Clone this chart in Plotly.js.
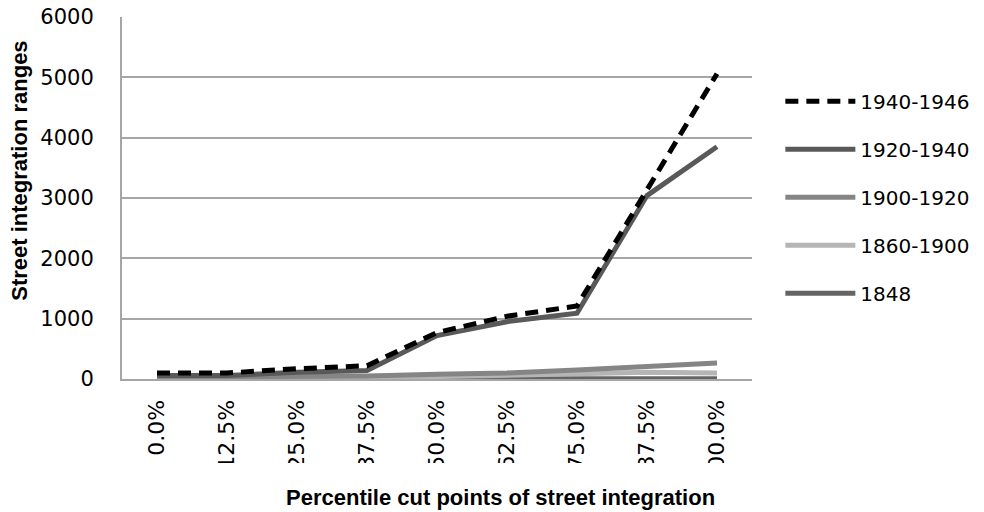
<!DOCTYPE html>
<html>
<head>
<meta charset="utf-8">
<script src="https://cdn.plot.ly/plotly-3.0.1.min.js"></script>
<style>html,body{margin:0;padding:0;background:#fff;}#chart{width:984px;height:512px;}</style>
</head>
<body>
<div id="chart"></div>
<script>
const categories = ["0.0%", "12.5%", "25.0%", "37.5%", "50.0%", "62.5%", "75.0%", "87.5%", "100.0%"];
const s1940_1946 = [100, 100, 170, 220, 770, 1040, 1210, 3150, 5060];
const s1920_1940 = [60, 60, 110, 140, 720, 950, 1090, 3040, 3850];
const s1900_1920 = [30, 30, 40, 50, 80, 100, 150, 200, 265];
const s1860_1900 = [15, 15, 20, 25, 40, 55, 85, 110, 100];
const s1848 = [5, 5, 5, 5, 5, 5, 5, 5, 5];
const yTicks = [0, 1000, 2000, 3000, 4000, 5000, 6000];

const seriesNames = ["1940-1946", "1920-1940", "1900-1920", "1860-1900", "1848"];
const seriesData = [s1940_1946, s1920_1940, s1900_1920, s1860_1900, s1848];
const styles = [
  {color: "#000000", width: 5, dash: "13px,8px"},
  {color: "#595959", width: 5, dash: "solid"},
  {color: "#858585", width: 5, dash: "solid"},
  {color: "#b5b5b5", width: 5, dash: "solid"},
  {color: "#646464", width: 5, dash: "solid"}
];

// draw in reverse order so the dashed series sits on top; legend order kept via legendrank
const traces = [];
for (let i = seriesNames.length - 1; i >= 0; i--) {
  traces.push({
    type: "scatter",
    mode: "lines",
    name: seriesNames[i],
    x: categories,
    y: seriesData[i],
    line: styles[i],
    legendgroup: "g" + i,
    legendrank: i + 1
  });
}

const layout = {
  width: 984,
  height: 512,
  margin: {l: 122, r: 232, t: 17, b: 133, autoexpand: false},
  paper_bgcolor: "#ffffff",
  plot_bgcolor: "#ffffff",
  font: {family: "DejaVu Sans", color: "#000000", size: 20},
  showlegend: true,
  legend: {
    x: 1.045, xanchor: "left",
    y: 0.821, yanchor: "top",
    traceorder: "grouped",
    tracegroupgap: 19,
    itemwidth: 70,
    font: {family: "DejaVu Sans", size: 20, color: "#000000"},
    bgcolor: "rgba(0,0,0,0)"
  },
  xaxis: {
    type: "category",
    range: [-0.5, 8.5],
    tickangle: -90,
    showgrid: false,
    showline: true,
    linecolor: "#a6a6a6",
    linewidth: 2,
    ticks: "",
    ticklabelstandoff: 10,
    tickfont: {family: "DejaVu Sans", size: 22, color: "#000000"},
    zeroline: false,
    fixedrange: true
  },
  yaxis: {
    range: [0, 6000],
    tickvals: yTicks,
    showgrid: true,
    gridcolor: "#a6a6a6",
    gridwidth: 2,
    showline: true,
    linecolor: "#a6a6a6",
    linewidth: 2,
    ticks: "",
    ticklabelstandoff: 22,
    tickfont: {family: "DejaVu Sans", size: 21, color: "#000000"},
    zeroline: false,
    fixedrange: true
  },
  shapes: [
    {type: "rect", xref: "paper", yref: "paper", x0: -0.2, x1: 1.2, y0: -0.29, y1: -0.232,
     fillcolor: "#ffffff", line: {width: 0}, layer: "above"}
  ],
  annotations: [
    {text: "<b>Percentile cut points of street integration</b>", xref: "paper", yref: "paper",
     x: 0.601, y: -0.326, xanchor: "center", yanchor: "middle", showarrow: false,
     font: {family: "Liberation Sans", size: 22, color: "#000000"}},
    {text: "<b>Street integration ranges</b>", xref: "paper", yref: "paper",
     x: -0.162, y: 0.575, xanchor: "center", yanchor: "middle", showarrow: false, textangle: -90,
     font: {family: "Liberation Sans", size: 22, color: "#000000"}}
  ]
};

Plotly.newPlot("chart", traces, layout, {displayModeBar: false, staticPlot: true});
</script>
</body>
</html>
